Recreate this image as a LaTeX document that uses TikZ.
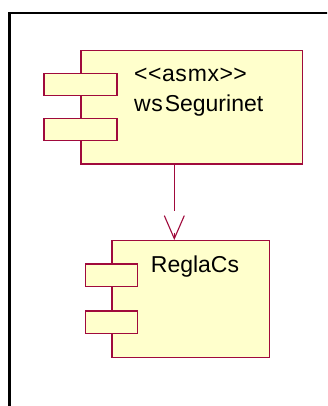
\documentclass[tikz,border=0pt]{standalone}
\usepackage{fontspec}
\setmainfont{Liberation Sans}
\usetikzlibrary{arrows.meta}
\definecolor{umlline}{RGB}{160,10,60}
\definecolor{umlfill}{RGB}{255,255,204}

\begin{document}
\begin{tikzpicture}[x=1pt,y=-1pt,
    comp/.style={draw=umlline,fill=umlfill,line width=1.2pt,inner sep=0pt,anchor=north west},
    port/.style={comp},
    lbl/.style={anchor=base west,inner sep=0pt,font=\fontsize{23}{30}\selectfont},
    dep/.style={draw=umlline,line width=1.1pt,dash pattern=on 46pt off 22pt,
        -{Straight Barb[length=23pt,width=20pt,line width=1.1pt]}}]
            \useasboundingbox (0,0) rectangle (327,406);
            \clip (0,0) rectangle (327,406);
            \draw[line width=2.5pt] (9.7,420) -- (9.7,13) -- (340,13);

            % wsSegurinet
            \node[comp,minimum width=221.7pt,minimum height=113.3pt] (ws) at (80.3,50) {};
            \node[port,minimum width=73pt,minimum height=21.7pt] (wsA) at (43.3,73) {};
            \node[port,minimum width=73pt,minimum height=22pt] (wsB) at (43.3,118.3) {};
            \node[lbl] (wsStereo) at (134,81.7) {<\kern0.5pt<\kern0.5pt a\kern0.5pt s\kern1pt m\kern0.5pt x\kern0.5pt>\kern0.5pt>};
            \node[lbl] (wsName) at (134,111.7) {w\kern0.5pt s\kern2pt Segurinet};

            % ReglaCs
            \node[comp,minimum width=157.4pt,minimum height=117pt] (rc) at (111.3,240) {};
            \node[port,minimum width=52pt,minimum height=22.7pt] (rcA) at (84.7,263.3) {};
            \node[port,minimum width=52pt,minimum height=22.7pt] (rcB) at (84.7,310.3) {};
            \node[lbl] (rcName) at (150.7,272.7) {ReglaCs};

            \draw[dep] (ws.south -| 174.3,0) -- (rc.north -| 174.3,0);
\end{tikzpicture}
\end{document}
